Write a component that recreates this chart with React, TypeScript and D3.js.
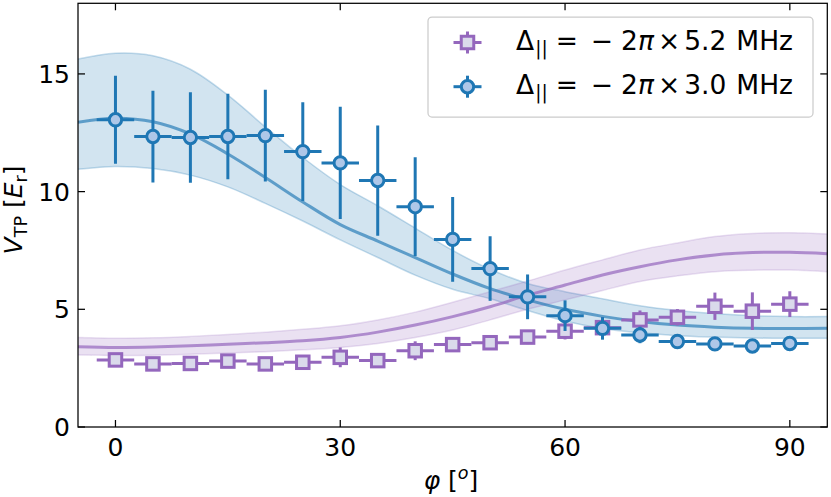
import React from "react";
import * as d3 from "d3";

// ---- data ----
const phi = [0, 5, 10, 15, 20, 25, 30, 35, 40, 45, 50, 55, 60, 65, 70, 75, 80, 85, 90];
const phiErr = 2.5;

const blueY = [13.05, 12.34, 12.3, 12.34, 12.38, 11.7, 11.22, 10.47, 9.36, 7.97, 6.73, 5.53, 4.73, 4.19, 3.91, 3.63, 3.53, 3.44, 3.55];
const blueErr = [1.87, 1.95, 1.92, 1.82, 1.95, 2.1, 2.38, 2.34, 2.1, 1.8, 1.37, 0.95, 0.65, 0.48, 0.35, 0.25, 0.2, 0.18, 0.2];

const purpleY = [2.85, 2.68, 2.7, 2.8, 2.68, 2.75, 2.96, 2.82, 3.24, 3.5, 3.58, 3.82, 4.07, 4.22, 4.55, 4.66, 5.13, 4.92, 5.22];
const purpleErr = [0.15, 0.12, 0.12, 0.15, 0.12, 0.2, 0.42, 0.2, 0.4, 0.3, 0.25, 0.3, 0.35, 0.45, 0.4, 0.35, 0.58, 0.8, 0.55];

const fitPhi = [-5, 0, 5, 10, 15, 20, 25, 30, 35, 40, 45, 50, 55, 60, 65, 70, 75, 80, 85, 90, 95];
const blueFit = [12.95, 13.12, 12.97, 12.45, 11.6, 10.6, 9.56, 8.6, 7.9, 7.2, 6.5, 5.88, 5.4, 5.0, 4.7, 4.48, 4.33, 4.24, 4.19, 4.18, 4.2];
const blueFitHi = [15.63, 15.88, 15.77, 15.2, 14.1, 12.75, 11.45, 10.3, 9.4, 8.45, 7.5, 6.7, 6.1, 5.75, 5.45, 5.15, 4.95, 4.82, 4.73, 4.69, 4.69];
const blueFitLo = [10.95, 11.07, 10.98, 10.7, 10.2, 9.5, 8.75, 7.95, 7.2, 6.45, 5.85, 5.45, 4.95, 4.5, 4.18, 4.0, 3.88, 3.82, 3.78, 3.77, 3.77];

const purpleFit = [3.41, 3.38, 3.4, 3.45, 3.52, 3.58, 3.66, 3.8, 4.03, 4.33, 4.69, 5.11, 5.6, 6.03, 6.46, 6.81, 7.1, 7.31, 7.41, 7.42, 7.36];
const purpleFitHi = [3.8, 3.77, 3.79, 3.85, 3.93, 4.03, 4.15, 4.3, 4.55, 4.88, 5.3, 5.75, 6.2, 6.67, 7.1, 7.52, 7.82, 8.09, 8.22, 8.25, 8.2];
const purpleFitLo = [3.06, 3.04, 3.05, 3.09, 3.14, 3.2, 3.28, 3.38, 3.55, 3.8, 4.12, 4.55, 5.0, 5.4, 5.8, 6.18, 6.42, 6.6, 6.66, 6.67, 6.6];

const xTicks = [0, 30, 60, 90];
const yTicks = [0, 5, 10, 15];
const legendLabels = ["5.2", "3.0"];

// ---- layout ----
const W = 831, H = 497;
const L = 78, R = 827.3, T = 3.3, B = 427;
const FONT = "DejaVu Sans";
const FS = 25;
const LFS = 26.5;

const BLUE = "#1f77b4", BLUE_FILL = "#aec7e8";
const PURPLE = "#9467bd", PURPLE_FILL = "#dadaeb";
const SW = 3;

export default function App() {
  const x = d3.scaleLinear().domain([-5, 95]).range([L, R]);
  const y = d3.scaleLinear().domain([0, 18]).range([B, T]);

  const curve = d3.curveCatmullRom.alpha(0.5);
  const line = d3.line<number>().x((_, i) => x(fitPhi[i])).y((v) => y(v)).curve(curve);
  const area = (hi: number[], lo: number[]) =>
    d3.area<number>().x((_, i) => x(fitPhi[i])).y0((_, i) => y(lo[i])).y1((_, i) => y(hi[i])).curve(curve)(hi) || "";

  const tickLen = 7;

  const errbars = (ys: number[], errs: number[], color: string) =>
    phi.map((p, i) => (
      <g key={i} stroke={color} strokeWidth={SW}>
        <line x1={x(p - phiErr)} x2={x(p + phiErr)} y1={y(ys[i])} y2={y(ys[i])} />
        <line x1={x(p)} x2={x(p)} y1={y(ys[i] - errs[i])} y2={y(ys[i] + errs[i])} />
      </g>
    ));

  const sq = 12.5;
  const rad = 6.2;

  const legendRow = (label: string, i: number) => {
    const cy = 42.5 + i * 44.2;
    const cx = 467.5;
    const base = cy + 7.5;
    return (
      <g key={i}>
        <g stroke={i === 0 ? PURPLE : BLUE} strokeWidth={SW}>
          <line x1={cx - 14} x2={cx + 14} y1={cy} y2={cy} />
          <line x1={cx} x2={cx} y1={cy - 11} y2={cy + 11} />
        </g>
        {i === 0 ? (
          <rect x={cx - sq / 2} y={cy - sq / 2} width={sq} height={sq} fill={PURPLE_FILL} stroke={PURPLE} strokeWidth={SW} />
        ) : (
          <circle cx={cx} cy={cy} r={rad} fill={BLUE_FILL} stroke={BLUE} strokeWidth={SW} />
        )}
        <text x={516} y={base} fontFamily={FONT} fontSize={LFS} fill="#000">
          <tspan>Δ</tspan>
          <tspan fontSize={LFS * 0.7} dy={5} dx={1}>||</tspan>
          <tspan dy={-5} dx={8}>=</tspan>
          <tspan dx={13}>−</tspan>
          <tspan dx={8}>2</tspan>
          <tspan fontStyle="italic">π</tspan>
          <tspan dx={4}>×</tspan>
          <tspan dx={4}>{label}</tspan>
          <tspan dx={10}>MHz</tspan>
        </text>
      </g>
    );
  };

  return (
    <svg width={W} height={H} style={{ position: "absolute", left: 0, top: 0, background: "#fff" }} fontFamily={FONT}>
      <defs>
        <clipPath id="plot">
          <rect x={L} y={T} width={R - L} height={B - T} />
        </clipPath>
      </defs>
      <rect x={0} y={0} width={W} height={H} fill="#fff" />
      <g clipPath="url(#plot)">
        {/* bands */}
        <path d={area(blueFitHi, blueFitLo)} fill={BLUE} fillOpacity={0.2} />
        <path d={line(blueFitHi) || ""} fill="none" stroke={BLUE} strokeOpacity={0.25} strokeWidth={1.5} />
        <path d={line(blueFitLo) || ""} fill="none" stroke={BLUE} strokeOpacity={0.25} strokeWidth={1.5} />
        <path d={area(purpleFitHi, purpleFitLo)} fill={PURPLE} fillOpacity={0.2} />
        <path d={line(purpleFitHi) || ""} fill="none" stroke={PURPLE} strokeOpacity={0.2} strokeWidth={1.5} />
        <path d={line(purpleFitLo) || ""} fill="none" stroke={PURPLE} strokeOpacity={0.2} strokeWidth={1.5} />
        {/* fit lines */}
        <path d={line(blueFit) || ""} fill="none" stroke={BLUE} strokeOpacity={0.65} strokeWidth={3} />
        <path d={line(purpleFit) || ""} fill="none" stroke={PURPLE} strokeOpacity={0.7} strokeWidth={3} />
        {/* purple data */}
        {errbars(purpleY, purpleErr, PURPLE)}
        {phi.map((p, i) => (
          <rect key={"s" + i} x={x(p) - sq / 2} y={y(purpleY[i]) - sq / 2} width={sq} height={sq} fill={PURPLE_FILL} stroke={PURPLE} strokeWidth={SW} />
        ))}
        {/* blue data */}
        {errbars(blueY, blueErr, BLUE)}
        {phi.map((p, i) => (
          <circle key={"c" + i} cx={x(p)} cy={y(blueY[i])} r={rad} fill={BLUE_FILL} stroke={BLUE} strokeWidth={SW} />
        ))}
      </g>

      {/* ticks */}
      <g stroke="#000" strokeWidth={1.25}>
        {xTicks.map((t) => (
          <g key={"xt" + t}>
            <line x1={x(t)} x2={x(t)} y1={B} y2={B - tickLen} />
            <line x1={x(t)} x2={x(t)} y1={T} y2={T + tickLen} />
          </g>
        ))}
        {yTicks.map((t) => (
          <g key={"yt" + t}>
            <line x1={L} x2={L + tickLen} y1={y(t)} y2={y(t)} />
            <line x1={R} x2={R - tickLen} y1={y(t)} y2={y(t)} />
          </g>
        ))}
      </g>
      <rect x={L} y={T} width={R - L} height={B - T} fill="none" stroke="#000" strokeWidth={1.25} />

      {/* tick labels */}
      {xTicks.map((t) => (
        <text key={"xl" + t} x={x(t)} y={456} textAnchor="middle" fontSize={FS} fill="#000">{t}</text>
      ))}
      {yTicks.map((t) => (
        <text key={"yl" + t} x={70} y={y(t) + 9} textAnchor="end" fontSize={FS} fill="#000">{t}</text>
      ))}

      {/* axis labels */}
      <text x={451} y={489} textAnchor="middle" fontSize={FS} fill="#000">
        <tspan fontStyle="italic">φ</tspan>
        <tspan> [</tspan>
        <tspan fontStyle="italic" fontSize={FS * 0.7} dy={-10}>o</tspan>
        <tspan dy={10}>]</tspan>
      </text>
      <text transform="translate(22,210) rotate(-90)" textAnchor="middle" fontSize={FS} fill="#000">
        <tspan fontStyle="italic">V</tspan>
        <tspan fontSize={FS * 0.7} dy={5}>TP</tspan>
        <tspan dy={-5}> [</tspan>
        <tspan fontStyle="italic">E</tspan>
        <tspan fontSize={FS * 0.7} dy={5}>r</tspan>
        <tspan dy={-5}>]</tspan>
      </text>

      {/* legend */}
      <rect x={428} y={17} width={385} height={100} rx={4} fill="#fff" fillOpacity={0.8} stroke="#cccccc" strokeWidth={1.25} />
      {legendLabels.map((lab, i) => legendRow(lab, i))}
    </svg>
  );
}
